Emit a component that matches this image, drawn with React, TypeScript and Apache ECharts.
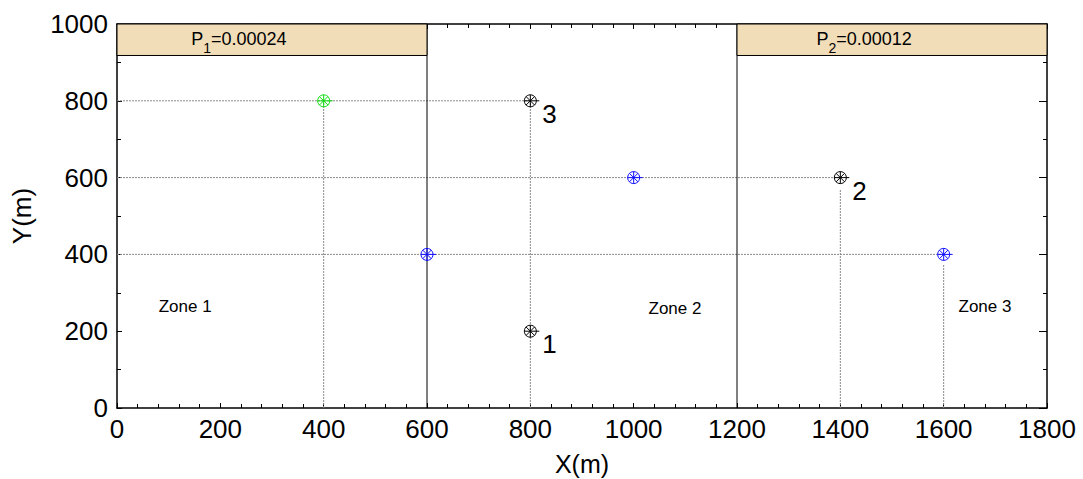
import React, { useEffect, useRef } from "react";
import * as echarts from "echarts";

// ---- data ----
const greenPoints: number[][] = [[400, 800]];
const bluePoints: number[][] = [[600, 400], [1000, 600], [1600, 400]];
const blackPoints: number[][] = [[800, 200], [1400, 600], [800, 800]];
const blackLabels: string[] = ["1", "2", "3"];

const hGuides: number[][][] = [
  [[0, 800], [800, 800]],
  [[0, 600], [1400, 600]],
  [[0, 400], [1600, 400]],
];
const vGuides: number[][][] = [
  [[400, 0], [400, 800]],
  [[800, 0], [800, 800]],
  [[1400, 0], [1400, 570]],
  [[1600, 0], [1600, 375]],
];
const zoneBoundaries: number[] = [600, 1200];

const zoneNames: string[] = ["Zone 1", "Zone 2", "Zone 3"];
const zoneLabelPos: number[][] = [[132, 264], [1080, 259], [1680, 264]];

const boxRanges: number[][] = [[0, 600, 918, 1000], [1200, 1800, 918, 1000]];
const boxSubs: string[] = ["1", "2"];
const boxValues: string[] = ["=0.00024", "=0.00012"];
const boxLabelX: number[] = [236, 1446];

const FONT = "'Liberation Sans', Arial, sans-serif";

function markerSeries(points: number[][], color: string) {
  return {
    type: "custom",
    coordinateSystem: "cartesian2d",
    data: points,
    encode: { x: 0, y: 1 },
    z: 5,
    renderItem: (params: any, api: any) => {
      const p = api.coord([api.value(0), api.value(1)]);
      const r = 6;
      const d = r * 0.72;
      const st = { stroke: color, lineWidth: 1, fill: "none" };
      return {
        type: "group",
        children: [
          { type: "circle", shape: { cx: p[0], cy: p[1], r }, style: { ...st } },
          { type: "line", shape: { x1: p[0] - r, y1: p[1], x2: p[0] + r + 3, y2: p[1] }, style: { ...st } },
          { type: "line", shape: { x1: p[0], y1: p[1] - r, x2: p[0], y2: p[1] + r }, style: { ...st } },
          { type: "line", shape: { x1: p[0] - d, y1: p[1] - d, x2: p[0] + d, y2: p[1] + d }, style: { ...st } },
          { type: "line", shape: { x1: p[0] - d, y1: p[1] + d, x2: p[0] + d, y2: p[1] - d }, style: { ...st } },
        ],
      };
    },
  };
}

export default function App() {
  const ref = useRef<HTMLDivElement>(null);
  useEffect(() => {
    if (!ref.current) return;
    const chart = echarts.init(ref.current, undefined, { renderer: "svg" });

    const guideSeries = [...hGuides, ...vGuides].map((seg) => ({
      type: "line",
      data: seg,
      symbol: "none",
      silent: true,
      z: 2,
      lineStyle: { color: "#8a8a8a", width: 1, type: [2, 1] },
    }));

    const boundarySeries = zoneBoundaries.map((x) => ({
      type: "line",
      data: [[x, 0], [x, 1000]],
      symbol: "none",
      silent: true,
      z: 3,
      lineStyle: { color: "#000", width: 1, type: "solid" },
    }));

    const axisCommon = {
      min: 0,
      axisLine: { show: true, onZero: false, lineStyle: { color: "#000", width: 1.5 } },
      axisTick: { show: true, inside: true, length: 5, lineStyle: { color: "#000", width: 1 } },
      minorTick: { show: true, length: 4, lineStyle: { color: "#000", width: 1 } },
      splitLine: { show: false },
      minorSplitLine: { show: false },
    };
    const fmt = (v: number) => String(v);

    const option: any = {
      animation: false,
      grid: { left: 117, right: 36, top: 24, bottom: 71, containLabel: false, outerBoundsMode: "none" },
      xAxis: [
        {
          ...axisCommon,
          type: "value",
          position: "bottom",
          max: 1800,
          interval: 200,
          minorTick: { ...axisCommon.minorTick, splitNumber: 5 },
          axisLabel: { color: "#000", fontSize: 26, fontFamily: FONT, margin: 8, formatter: fmt },
          name: "X(m)",
          nameLocation: "middle",
          nameGap: 43,
          nameTextStyle: { color: "#000", fontSize: 25, fontFamily: FONT, lineHeight: 25 },
        },
        {
          ...axisCommon,
          type: "value",
          position: "top",
          max: 1800,
          interval: 200,
          minorTick: { ...axisCommon.minorTick, splitNumber: 5 },
          axisLabel: { show: false },
        },
      ],
      yAxis: [
        {
          ...axisCommon,
          type: "value",
          position: "left",
          max: 1000,
          interval: 200,
          minorTick: { ...axisCommon.minorTick, splitNumber: 2 },
          axisLabel: { color: "#000", fontSize: 26, fontFamily: FONT, margin: 9, formatter: fmt },
          name: "Y(m)",
          nameLocation: "middle",
          nameGap: 82,
          nameTextStyle: { color: "#000", fontSize: 26, fontFamily: FONT },
        },
        {
          ...axisCommon,
          type: "value",
          position: "right",
          max: 1000,
          interval: 200,
          axisTick: { ...axisCommon.axisTick, length: 8 },
          minorTick: { ...axisCommon.minorTick, splitNumber: 2 },
          axisLabel: { show: false },
        },
      ],
      series: [
        ...guideSeries,
        ...boundarySeries,
        {
          type: "custom",
          coordinateSystem: "cartesian2d",
          data: boxRanges,
          encode: { x: [0, 1], y: [2, 3] },
          z: 4,
          renderItem: (params: any, api: any) => {
            const i = params.dataIndex;
            const p0 = api.coord([api.value(0), api.value(3)]);
            const p1 = api.coord([api.value(1), api.value(2)]);
            const t = api.coord([boxLabelX[i], (api.value(2) + api.value(3)) / 2]);
            return {
              type: "group",
              children: [
                {
                  type: "rect",
                  shape: { x: p0[0], y: p0[1], width: p1[0] - p0[0], height: p1[1] - p0[1] },
                  style: { fill: "#f2ddb9", stroke: "#000", lineWidth: 1 },
                },
                {
                  type: "text",
                  x: t[0],
                  y: t[1] + 2,
                  style: {
                    text: "{n|P}{s|" + boxSubs[i] + "}{n|" + boxValues[i] + "}",
                    align: "center",
                    verticalAlign: "middle",
                    fill: "#000",
                    rich: {
                      n: { fontSize: 18, fontFamily: FONT, fill: "#000", lineHeight: 26, verticalAlign: "top", padding: [1, 0, 0, 0] },
                      s: { fontSize: 14, fontFamily: FONT, fill: "#000", lineHeight: 26, verticalAlign: "bottom" },
                    },
                  },
                },
              ],
            };
          },
        },
        markerSeries(greenPoints, "#10e010"),
        markerSeries(bluePoints, "#1010ff"),
        markerSeries(blackPoints, "#000"),
        {
          type: "custom",
          coordinateSystem: "cartesian2d",
          data: blackPoints,
          encode: { x: 0, y: 1 },
          z: 6,
          renderItem: (params: any, api: any) => {
            const p = api.coord([api.value(0), api.value(1)]);
            return {
              type: "text",
              x: p[0] + 12,
              y: p[1] + 13,
              style: {
                text: blackLabels[params.dataIndex],
                align: "left",
                verticalAlign: "middle",
                fontSize: 26,
                fontFamily: FONT,
                fill: "#000",
              },
            };
          },
        },
        {
          type: "custom",
          coordinateSystem: "cartesian2d",
          data: zoneLabelPos,
          encode: { x: 0, y: 1 },
          z: 6,
          renderItem: (params: any, api: any) => {
            const p = api.coord([api.value(0), api.value(1)]);
            return {
              type: "text",
              x: p[0],
              y: p[1],
              style: {
                text: zoneNames[params.dataIndex],
                align: "center",
                verticalAlign: "middle",
                fontSize: 17,
                fontFamily: FONT,
                fill: "#000",
              },
            };
          },
        },
      ],
    };
    chart.setOption(option);
    return () => chart.dispose();
  }, []);
  return <div ref={ref} style={{ width: 1083, height: 479, position: "absolute", left: 0, top: 0 }} />;
}
